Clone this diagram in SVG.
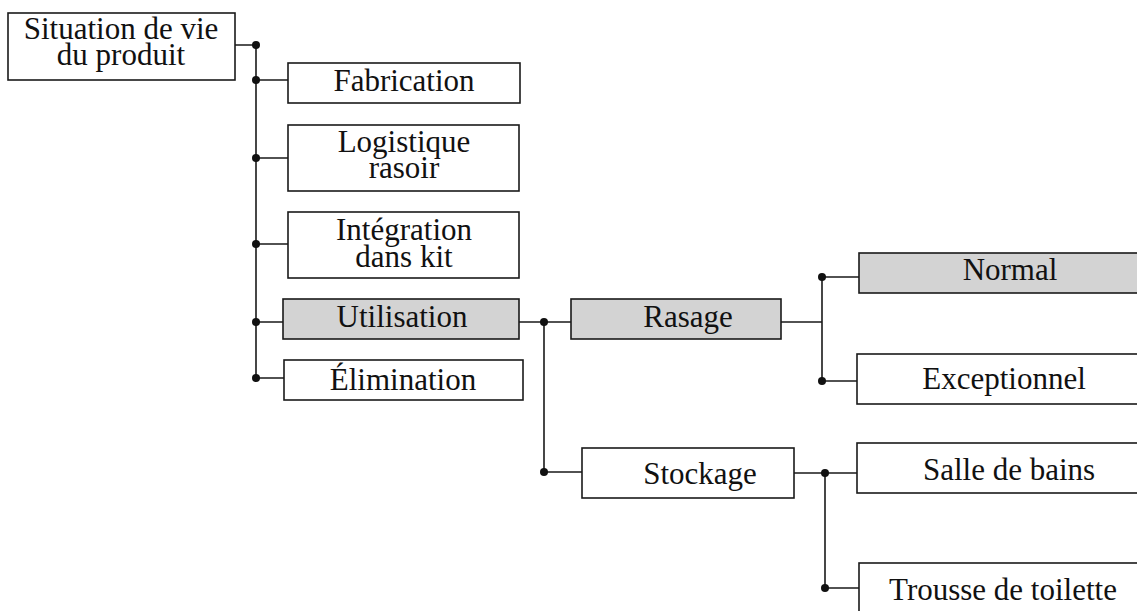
<svg xmlns="http://www.w3.org/2000/svg" width="1137" height="611" viewBox="0 0 1137 611">
<style>
.box{fill:#fff;stroke:#1a1a1a;stroke-width:1.6}
.hl{fill:#d3d3d3}
.t{font-family:"Liberation Serif","Times New Roman",serif;font-size:31px;fill:#111;text-anchor:middle}
.c{stroke:#1a1a1a;stroke-width:1.6;fill:none}
.d{fill:#111}
</style>
<rect width="1137" height="611" fill="#fff"/>
<g id="connectors">
<path class="c" d="M235,45H256M256,45V378M256,80H288M256,158H288M256,244H288M256,322H283M256,378H284"/>
<path class="c" d="M519,322H571M544,322V472H582"/>
<path class="c" d="M781,322H822M822,277V381M822,277H859M822,381H857"/>
<path class="c" d="M794,473H857M825,473V588H859"/>
<circle class="d" cx="256" cy="45" r="4"/>
<circle class="d" cx="256" cy="80" r="4"/>
<circle class="d" cx="256" cy="158" r="4"/>
<circle class="d" cx="256" cy="244" r="4"/>
<circle class="d" cx="256" cy="322" r="4"/>
<circle class="d" cx="256" cy="378" r="4"/>
<circle class="d" cx="544" cy="322" r="4"/>
<circle class="d" cx="544" cy="472" r="4"/>
<circle class="d" cx="822" cy="277" r="4"/>
<circle class="d" cx="822" cy="381" r="4"/>
<circle class="d" cx="825" cy="473" r="4"/>
<circle class="d" cx="825" cy="588" r="4"/>
</g>
<g id="n-root"><rect class="box" x="8" y="13" width="227" height="67"/><text class="t" x="121" y="39">Situation de vie</text><text class="t" x="121" y="65">du produit</text></g>
<g id="n-fabrication"><rect class="box" x="288" y="63" width="232" height="40"/><text class="t" x="404" y="91">Fabrication</text></g>
<g id="n-logistique"><rect class="box" x="288" y="125" width="231" height="66"/><text class="t" x="404" y="152">Logistique</text><text class="t" x="404" y="178">rasoir</text></g>
<g id="n-integration"><rect class="box" x="288" y="212" width="231" height="66"/><text class="t" x="404" y="240">Intégration</text><text class="t" x="404" y="267">dans kit</text></g>
<g id="n-utilisation"><rect class="box hl" x="283" y="299" width="236" height="40"/><text class="t" x="402" y="327">Utilisation</text></g>
<g id="n-elimination"><rect class="box" x="284" y="360" width="239" height="40"/><text class="t" x="403" y="390">Élimination</text></g>
<g id="n-rasage"><rect class="box hl" x="571" y="299" width="210" height="40"/><text class="t" x="688" y="327">Rasage</text></g>
<g id="n-stockage"><rect class="box" x="582" y="448" width="212" height="50"/><text class="t" x="700" y="484">Stockage</text></g>
<g id="n-normal"><rect class="box hl" x="859" y="253" width="300" height="40"/><text class="t" x="1010" y="280">Normal</text></g>
<g id="n-exceptionnel"><rect class="box" x="857" y="354" width="300" height="50"/><text class="t" x="1004" y="389">Exceptionnel</text></g>
<g id="n-salle"><rect class="box" x="857" y="443" width="300" height="50"/><text class="t" x="1009" y="480">Salle de bains</text></g>
<g id="n-trousse"><rect class="box" x="859" y="563" width="300" height="70"/><text class="t" x="1003" y="600">Trousse de toilette</text></g>
</svg>
